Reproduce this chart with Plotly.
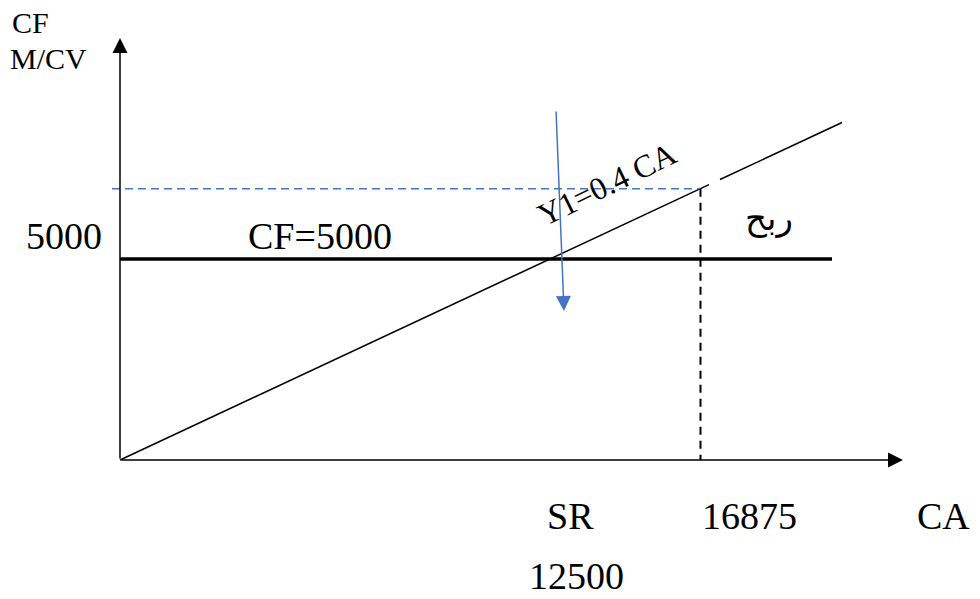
import plotly.graph_objects as go

# ---- chart values ----
CF = 5000            # fixed costs
rate = 0.4           # margin rate: Y1 = 0.4 CA
SR = 12500           # break-even turnover (seuil de rentabilité)
CA_point = 16875     # chosen turnover
y_labels = ["CF", "M/CV"]
x_labels = ["SR", "16875", "CA"]
profit_label = "ربح"

# ---- pixel scale of the drawing (layout only) ----
W, H = 980, 599
ox, oy = 120, 460          # origin in pixels
kx = 430 / SR              # px per CA unit
ky = 201 / CF              # px per y unit

def dx(px):
    return (px - ox) / kx

def dy(py):
    return (oy - py) / ky

x_end_cf = dx(832)
x_end_y1 = dx(842)
gap_a, gap_b = dx(709), dx(720)
y_at_ca = rate * CA_point

fig = go.Figure()

# Y1 = 0.4 CA line (small gap as in drawing)
y1_x = [0, gap_a, None, gap_b, x_end_y1]
y1_y = [None if v is None else rate * v for v in y1_x]
fig.add_trace(go.Scatter(x=y1_x, y=y1_y, mode="lines",
                         line=dict(color="black", width=1.5),
                         hoverinfo="skip", connectgaps=False))

# CF horizontal line
fig.add_trace(go.Scatter(x=[0, x_end_cf], y=[CF, CF], mode="lines",
                         line=dict(color="black", width=3.5), hoverinfo="skip"))

# blue dashed horizontal at Y1(CA_point)
fig.add_trace(go.Scatter(x=[dx(112), CA_point], y=[y_at_ca, y_at_ca], mode="lines",
                         line=dict(color="#4472C4", width=1.5, dash="8px,5px"),
                         hoverinfo="skip"))

# black dashed vertical at CA_point
fig.add_trace(go.Scatter(x=[CA_point, CA_point], y=[y_at_ca, 0], mode="lines",
                         line=dict(color="black", width=2, dash="8px,6px"),
                         hoverinfo="skip"))

ann = []
# axes arrows
ann.append(dict(x=0, y=dy(38), ax=0, ay=0, xref="x", yref="y", axref="x", ayref="y",
                text="", showarrow=True, arrowhead=2, arrowsize=2, arrowwidth=1.5,
                arrowcolor="black", standoff=0))
ann.append(dict(x=dx(903), y=0, ax=0, ay=0, xref="x", yref="y", axref="x", ayref="y",
                text="", showarrow=True, arrowhead=2, arrowsize=2, arrowwidth=1.5,
                arrowcolor="black", standoff=0))
# blue pointer arrow at SR
ann.append(dict(x=dx(564), y=dy(311), ax=dx(556), ay=dy(110), xref="x", yref="y",
                axref="x", ayref="y", text="", showarrow=True, arrowhead=2, arrowsize=2,
                arrowwidth=1.5, arrowcolor="#4472C4", standoff=0))

serif = "Liberation Serif, Times New Roman, serif"

def txt(x, y, s, size, xanchor="center", yanchor="middle", angle=0, family=serif):
    return dict(x=x, y=y, xref="x", yref="y", text=s, showarrow=False,
                xanchor=xanchor, yanchor=yanchor, textangle=angle,
                font=dict(family=family, size=size, color="black"))

ann.append(txt(dx(10), dy(22), y_labels[0], 30, xanchor="left"))
ann.append(txt(dx(8), dy(58), y_labels[1], 30, xanchor="left"))
ann.append(txt(dx(104), dy(236), str(CF), 38, xanchor="right"))
ann.append(txt(dx(320), dy(236), f"CF={CF}", 38))
ann.append(txt(dx(607), dy(184), "Y1=0.4 CA", 32, angle=-26))
ann.append(txt(dx(769), dy(218), profit_label, 34, family="DejaVu Sans, Noto Sans, sans-serif"))
ann.append(txt(dx(570), dy(516), x_labels[0], 38))
ann.append(txt(dx(749), dy(516), x_labels[1], 38))
ann.append(txt(dx(943), dy(516), x_labels[2], 38))
ann.append(txt(dx(576), dy(576), str(SR), 38))

fig.update_layout(
    width=W, height=H,
    margin=dict(l=0, r=0, t=0, b=0),
    paper_bgcolor="white", plot_bgcolor="white",
    showlegend=False,
    xaxis=dict(range=[dx(0), dx(W)], visible=False, fixedrange=True),
    yaxis=dict(range=[dy(H), dy(0)], visible=False, fixedrange=True),
    annotations=ann,
)

fig.write_html("out.html", config={"displayModeBar": False},
               post_script="document.body.style.margin='0';document.body.style.overflow='hidden';")
